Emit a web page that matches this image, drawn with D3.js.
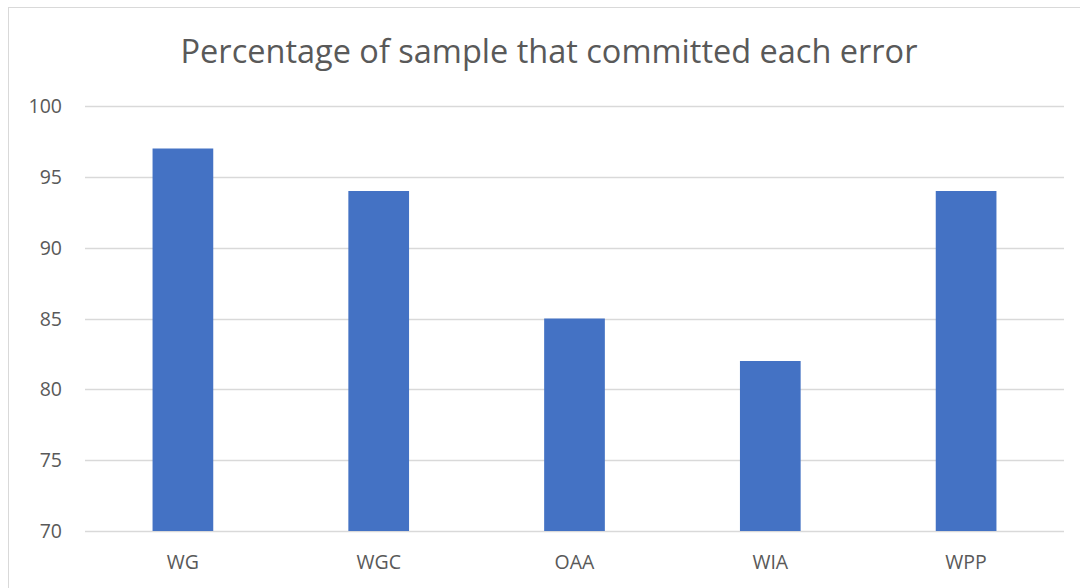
<!DOCTYPE html>
<html>
<head>
<meta charset="utf-8">
<script src="https://cdn.jsdelivr.net/npm/d3@7"></script>
<style>
  body { margin: 0; background: #fff; }
  text { font-family: "Open Sans", "Noto Sans", sans-serif; fill: #595959; }
</style>
</head>
<body>
<div id="chart"></div>
<script>
const width = 1080;
const height = 588;

// data
const categories = ["WG", "WGC", "OAA", "WIA", "WPP"];
const values = [97, 94, 85, 82, 94];
const yTicks = [70, 75, 80, 85, 90, 95, 100];
const title = "Percentage of sample that committed each error";

const svg = d3.select("#chart").append("svg")
  .attr("width", width)
  .attr("height", height);

// chart border
svg.append("rect")
  .attr("x", 8.5)
  .attr("y", 7.5)
  .attr("width", width + 10)
  .attr("height", height + 10)
  .attr("fill", "#fff")
  .attr("stroke", "#d9d9d9");

const plot = { left: 85, right: 1064, top: 106, bottom: 531 };

const x = d3.scaleBand()
  .domain(categories)
  .range([plot.left, plot.right])
  .paddingInner(0.69)
  .paddingOuter(0.345);

const y = d3.scaleLinear()
  .domain([70, 100])
  .range([plot.bottom, plot.top]);

// gridlines
svg.append("g")
  .selectAll("line")
  .data(yTicks)
  .enter().append("line")
  .attr("x1", plot.left)
  .attr("x2", plot.right)
  .attr("y1", d => Math.round(y(d)) + 0.5)
  .attr("y2", d => Math.round(y(d)) + 0.5)
  .attr("stroke", "#d9d9d9")
  .attr("stroke-width", 1.3);

// y tick labels
svg.append("g")
  .selectAll("text")
  .data(yTicks)
  .enter().append("text")
  .attr("x", plot.left - 23)
  .attr("y", d => y(d))
  .attr("dy", "0.36em")
  .attr("text-anchor", "end")
  .style("font-size", "19.5px")
  .text(d => d);

// bars
svg.append("g")
  .selectAll("rect")
  .data(categories)
  .enter().append("rect")
  .attr("x", d => x(d))
  .attr("y", (d, i) => y(values[i]))
  .attr("width", x.bandwidth())
  .attr("height", (d, i) => y(70) - y(values[i]))
  .attr("fill", "#4472c4");

// category labels
svg.append("g")
  .selectAll("text")
  .data(categories)
  .enter().append("text")
  .attr("x", d => x(d) + x.bandwidth() / 2)
  .attr("y", 569)
  .attr("text-anchor", "middle")
  .style("font-size", "19.5px")
  .text(d => d);

// title
svg.append("text")
  .attr("x", 549)
  .attr("y", 63)
  .attr("text-anchor", "middle")
  .style("font-size", "32.5px")
  .text(title);
</script>
</body>
</html>
